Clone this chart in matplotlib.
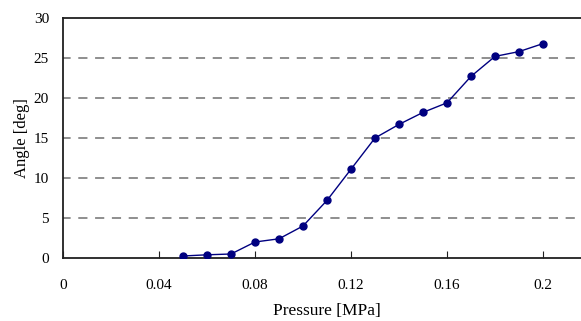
import matplotlib.pyplot as plt

pressure = [0.05, 0.06, 0.07, 0.08, 0.09, 0.10, 0.11, 0.12,
            0.13, 0.14, 0.15, 0.16, 0.17, 0.18, 0.19, 0.20]
angle = [0.25, 0.4, 0.5, 2.0, 2.4, 4.0, 7.2, 11.1,
         15.0, 16.7, 18.2, 19.4, 22.7, 25.2, 25.8, 26.8]
x_ticks = [0, 0.04, 0.08, 0.12, 0.16, 0.2]
x_tick_labels = ['0', '0.04', '0.08', '0.12', '0.16', '0.2']
y_ticks = [0, 5, 10, 15, 20, 25, 30]

plt.rcParams['font.family'] = ['Liberation Serif', 'DejaVu Serif']

fig = plt.figure(figsize=(5.81, 3.21), dpi=100)
# the original is cropped on the right, so the axes run past the figure edge
ax = fig.add_axes([63 / 581, 63 / 321, 528 / 581, 240 / 321])

ax.plot(pressure, angle, color='#000080', linewidth=1,
        marker='o', markersize=5, zorder=3)

ax.set_xlim(0, 0.22)
ax.set_ylim(0, 30)
ax.set_xticks(x_ticks)
ax.set_xticklabels(x_tick_labels)
ax.set_yticks(y_ticks)

# dashed gridlines
for y in y_ticks[1:-1]:
    ax.axhline(y, color='#707070', linestyle=(1, (6, 5)), linewidth=1.1, zorder=1)

for side in ['left', 'bottom', 'top']:
    ax.spines[side].set_color('#202020')
    ax.spines[side].set_linewidth(1.3)
ax.spines['right'].set_visible(False)

ax.tick_params(axis='x', direction='in', length=5, pad=15, labelsize=11, color='#202020')
ax.tick_params(axis='y', length=0, pad=10, labelsize=11)

ax.set_xlabel('Pressure [MPa]', fontsize=12.5, labelpad=8)
ax.set_ylabel('Angle [deg]', fontsize=12, labelpad=3)

fig.savefig('out.png', dpi=100)
